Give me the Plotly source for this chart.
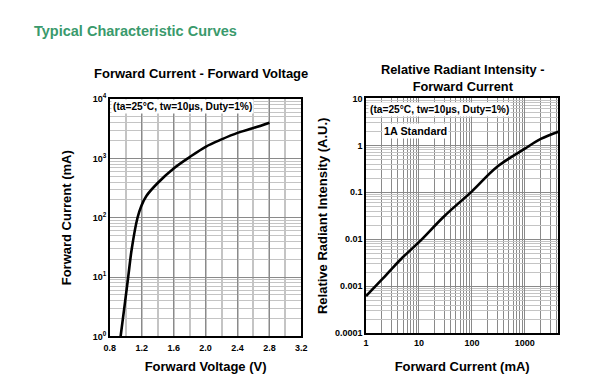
import plotly.graph_objects as go

# Forward Current vs Forward Voltage
vf_volts = [0.935, 0.985, 1.03, 1.074, 1.147, 1.196, 1.258, 1.4, 1.6, 1.8, 2.0, 2.2, 2.4, 2.6, 2.8]
if_ma = [1, 3.3, 10, 29.5, 100, 160, 233, 385, 675, 1050, 1570, 2090, 2690, 3250, 4000]

# Relative Radiant Intensity vs Forward Current
ir_ma = [1, 2, 3, 5, 10, 30, 100, 300, 1000, 2000, 4300]
rel_int = [0.00062, 0.0014, 0.0023, 0.0042, 0.0087, 0.031, 0.105, 0.35, 0.85, 1.37, 1.95]

left_yticks = [1, 10, 100, 1000, 10000]
left_yticktext = ["10<sup>0</sup>", "10<sup>1</sup>", "10<sup>2</sup>", "10<sup>3</sup>", "10<sup>4</sup>"]
right_xticks = [1, 10, 100, 1000]
right_xticktext = ["1", "10", "100", "1000"]
right_yticks = [0.0001, 0.001, 0.01, 0.1, 1, 10]
right_yticktext = ["0.0001", "0.001", "0.01", "0.1", "1", "10"]

FONT = "Liberation Sans, Arial, sans-serif"
MAJ = "#8a8a8a"
MIN = "#c4c4c4"

fig = go.Figure()
fig.add_trace(go.Scatter(x=vf_volts, y=if_ma, mode="lines", line=dict(color="black", width=2.6, shape="spline"),
                         xaxis="x", yaxis="y", showlegend=False))
fig.add_trace(go.Scatter(x=ir_ma, y=rel_int, mode="lines", line=dict(color="black", width=2.6, shape="spline"),
                         xaxis="x2", yaxis="y2", showlegend=False))

tickfont = dict(family=FONT, size=9, color="black", weight="bold")
axcommon = dict(showline=True, linecolor="black", linewidth=1.5, mirror=True, ticks="",
                tickfont=tickfont, zeroline=False)

fig.update_layout(
    width=607, height=388,
    margin=dict(l=0, r=0, t=0, b=0),
    paper_bgcolor="white", plot_bgcolor="white",
    font=dict(family=FONT, color="black"),
    xaxis=dict(domain=[0.1745, 0.4964], range=[0.8, 3.2], tickvals=[0.8, 1.2, 1.6, 2.0, 2.4, 2.8, 3.2],
               tickformat=".1f", showgrid=True, gridcolor=MAJ, gridwidth=1,
               minor=dict(dtick=0.2, showgrid=True, gridcolor=MIN, gridwidth=1.5),
               anchor="y", ticklabelstandoff=2,
               title=dict(text="<b>Forward Voltage (V)</b>", font=dict(size=13), standoff=10), **axcommon),
    yaxis=dict(domain=[0.1237, 0.7552], type="log", range=[0, 4], tickvals=left_yticks, ticktext=left_yticktext,
               showgrid=True, gridcolor=MAJ, gridwidth=1,
               minor=dict(dtick="D1", showgrid=True, gridcolor=MIN, gridwidth=1),
               anchor="x",
               title=dict(text="<b>Forward Current (mA)</b>", font=dict(size=13), standoff=18), **axcommon),
    xaxis2=dict(domain=[0.6051, 0.9283], type="log", range=[0, 3.633], tickvals=right_xticks, ticktext=right_xticktext,
                showgrid=True, gridcolor=MAJ, gridwidth=1,
                minor=dict(dtick="D1", showgrid=True, gridcolor=MAJ, gridwidth=1),
                anchor="y2",
                title=dict(text="<b>Forward Current (mA)</b>", font=dict(size=13), standoff=15), **axcommon),
    yaxis2=dict(domain=[0.1322, 0.757], type="log", range=[-4, 1], tickvals=right_yticks, ticktext=right_yticktext,
                showgrid=True, gridcolor=MAJ, gridwidth=1,
                minor=dict(dtick="D1", showgrid=True, gridcolor=MIN, gridwidth=1),
                anchor="x2",
                title=dict(text="<b>Relative Radiant Intensity (A.U.)</b>", font=dict(size=13), standoff=4), **axcommon),
)

annots = [
    dict(text="<b>Typical Characteristic Curves</b>", x=27 / 607, y=1 - 25 / 388, xref="paper", yref="paper",
         xanchor="left", yanchor="middle", showarrow=False, font=dict(size=14.5, color="#3a9a6c", family=FONT)),
    dict(text="<b>Forward Current - Forward Voltage</b>", x=199 / 607, y=1 - 69 / 388, xref="paper", yref="paper",
         xanchor="center", yanchor="middle", showarrow=False, font=dict(size=13, family=FONT)),
    dict(text="<b>Relative Radiant Intensity -<br>Forward Current</b>", x=466 / 607, y=1 - 73.5 / 388,
         xref="paper", yref="paper", xanchor="center", yanchor="middle", showarrow=False,
         font=dict(size=12.8, family=FONT)),
    dict(text="<b>(ta=25°C, tw=10µs, Duty=1%)</b>", x=107 / 607, y=1 - 103 / 388, xref="paper", yref="paper",
         xanchor="left", yanchor="middle", showarrow=False, bgcolor="white", borderpad=1,
         font=dict(size=10.2, family=FONT)),
    dict(text="<b>(ta=25°C, tw=10µs, Duty=1%)</b>", x=369 / 607, y=1 - 106 / 388, xref="paper", yref="paper",
         xanchor="left", yanchor="middle", showarrow=False, bgcolor="white", borderpad=1,
         font=dict(size=10.2, family=FONT)),
    dict(text="<b>1A Standard</b>", x=384 / 607, y=1 - 128 / 388, xref="paper", yref="paper",
         xanchor="left", yanchor="middle", showarrow=False, bgcolor="white", borderpad=1,
         font=dict(size=10.8, family=FONT)),
]
fig.update_layout(annotations=annots)

fig.write_html("out.html", config={"displayModeBar": False},
               post_script="document.body.style.margin='0';document.body.style.overflow='hidden';")
